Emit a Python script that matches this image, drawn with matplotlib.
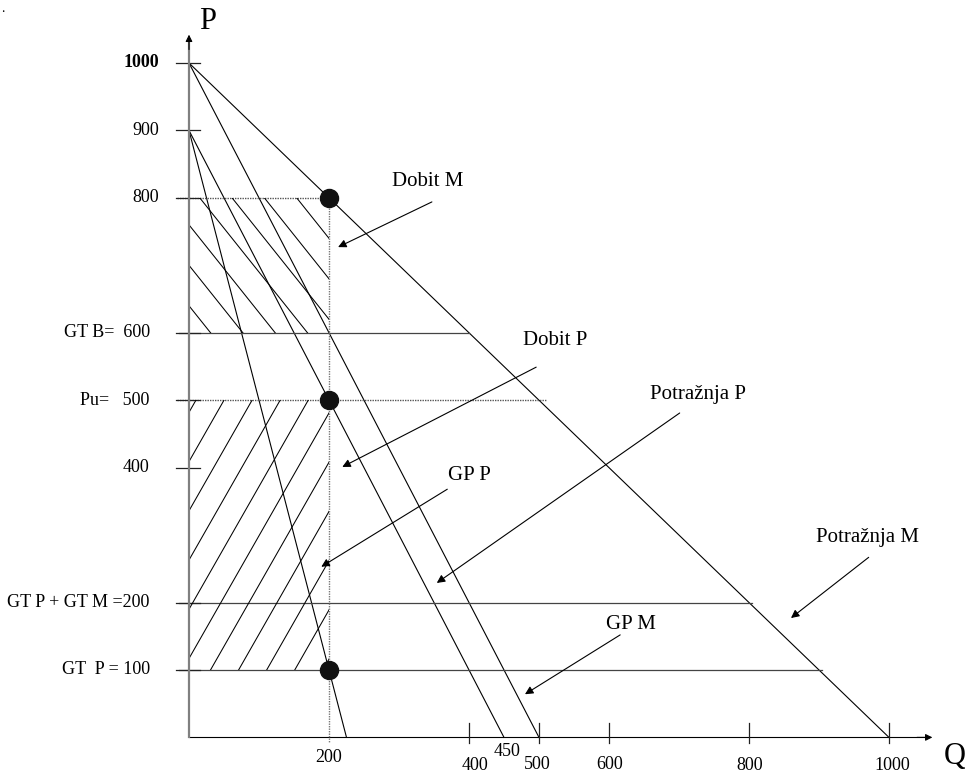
import matplotlib
matplotlib.use("Agg")
import matplotlib.pyplot as plt
from matplotlib.patches import Rectangle
import numpy as np

plt.rcParams['font.family'] = ['Liberation Serif', 'DejaVu Serif']

# demand and cost lines (Q, P)
potraznja_m_q = [0, 1000]
potraznja_m_p = [1000, 0]
potraznja_p_q = [0, 500]
potraznja_p_p = [1000, 0]
linija_450_q = [0, 450]
linija_450_p = [900, 0]
linija_225_q = [0, 225]
linija_225_p = [900, 0]

# equilibrium points
tocke_q = [200, 200, 200]
tocke_p = [800, 500, 100]

# horizontal levels: (P, Q end, dotted)
razine_p = [800, 600, 500, 200, 100]
razine_kraj = [200, 400, 510, 805, 904]
razine_tockasto = [True, False, True, False, False]

# y axis labels
y_vrijednosti = [1000, 900, 800, 600, 500, 400, 200, 100]
y_oznake = ["1000", "900", "800", "GT B=  600", "Pu=   500", "400",
            "GT P + GT M =200", "GT  P = 100"]

# x axis ticks and labels
x_crtice = [400, 500, 600, 800, 1000]
x_oznake = ["200", "450", "400", "500", "600", "800", "1000"]
x_oznake_q = [200, 454, 409, 497, 601, 801, 1004]
x_oznake_p = [-30, -21, -41, -40, -40, -41, -42]

# annotations: text, text position, arrow tail, arrow head
natpisi = ["Dobit M", "Dobit P", "GP P", "Potražnja P", "Potražnja M", "GP M"]
natpis_xy = [(341, 824), (523, 589), (400, 388), (727, 508), (970, 297), (631, 168)]
strelica_od = [(347, 794), (496, 549), (369, 368), (701, 481), (971, 267), (616, 152)]
strelica_do = [(213, 727), (219, 401), (189, 253), (354, 229), (860, 177), (480, 64)]

fig = plt.figure(figsize=(9.65, 7.73), dpi=100)
ax = fig.add_axes([0, 0, 1, 1])
ax.set_xlim(-270, 1108.6)
ax.set_ylim(-52.8, 1093.4)
ax.axis('off')

lw = 0.8
# axes
ax.plot([0, 0], [0, 1030], color='#808080', lw=1.6, zorder=3)
ax.annotate('', xy=(0, 1042), xytext=(0, 1020),
            arrowprops=dict(arrowstyle='-|>', color='k', lw=0.8,
                            mutation_scale=10, shrinkA=0, shrinkB=0))
ax.plot([0, 1050], [0, 0], color='k', lw=lw)
ax.annotate('', xy=(1062, 0), xytext=(1040, 0),
            arrowprops=dict(arrowstyle='-|>', color='k', lw=0.8,
                            mutation_scale=10, shrinkA=0, shrinkB=0))
ax.text(26, 1061, "P", fontsize=22, ha='center', va='center')
ax.text(1094, -29, "Q", fontsize=22, ha='center', va='center')

# curves
for q, p in [(potraznja_m_q, potraznja_m_p), (potraznja_p_q, potraznja_p_p),
             (linija_450_q, linija_450_p), (linija_225_q, linija_225_p)]:
    ax.plot(q, p, color='k', lw=lw)

# horizontal levels
for p, kraj, tockasto in zip(razine_p, razine_kraj, razine_tockasto):
    if tockasto:
        ax.plot([-17, kraj], [p, p], color='#555555', lw=1.0,
                linestyle=(0, (1, 0.8)))
    else:
        ax.plot([-14, kraj], [p, p], color='#444444', lw=0.9)

# vertical dotted line at Q=200
ax.plot([200, 200], [800, -7], color='#777777', lw=1.0, linestyle=(0, (1, 0.8)))

# y ticks
for p in y_vrijednosti:
    ax.plot([-18, 16], [p, p], color='#222222', lw=0.9)

# x ticks
for q in x_crtice:
    ax.plot([q, q], [-8, 22], color='#222222', lw=0.9)

# hatching
def srafura(q0, q1, p0, p1, nagib, razmak):
    rect = Rectangle((q0, p0), q1 - q0, p1 - p0, transform=ax.transData,
                     facecolor='none', edgecolor='none')
    ax.add_patch(rect)
    qq = np.array([q0 - 400, q1 + 400])
    for b in np.arange(-2000, 3000, razmak):
        ln, = ax.plot(qq, b + nagib * qq, color='k', lw=0.75)
        ln.set_clip_path(rect)

srafura(0, 200, 600, 800, -1.3, 60)
srafura(0, 200, 100, 500, 1.82, 73)

# points
ax.plot(tocke_q, tocke_p, 'o', color='#111111', markersize=13, zorder=5)

# y labels
for p, t in zip(y_vrijednosti, y_oznake):
    w = 'bold' if t == "1000" else 'normal'
    ax.text(-43 if t in ("1000", "900", "800") else -56, p, t, fontsize=13,
            ha='right', va='center', fontweight=w)

# x labels
for t, q, p in zip(x_oznake, x_oznake_q, x_oznake_p):
    ax.text(q, p, t, fontsize=13, ha='center', va='center')

# annotations
for t, xy, od, do in zip(natpisi, natpis_xy, strelica_od, strelica_do):
    ax.text(xy[0], xy[1], t, fontsize=15, ha='center', va='center')
    ax.annotate('', xy=do, xytext=od,
                arrowprops=dict(arrowstyle='-|>', color='k', lw=0.8,
                                mutation_scale=12, shrinkA=0, shrinkB=0))

ax.text(-268, 1090, ".", fontsize=10, ha='left', va='top')

fig.savefig("out.png", dpi=100)
